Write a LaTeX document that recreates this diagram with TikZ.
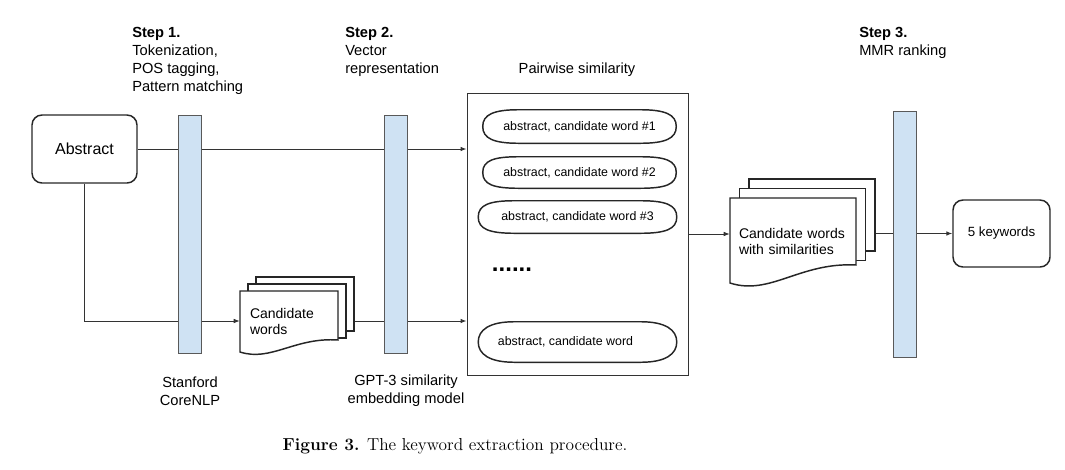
\documentclass[tikz,border=0pt]{standalone}
\usepackage{fontspec}
\setsansfont{Liberation Sans}
\usepackage{tikz}
\usetikzlibrary{arrows.meta,backgrounds}
\definecolor{barblue}{RGB}{207,226,243}

\begin{document}
\begin{tikzpicture}[x=0.75pt,y=-0.75pt]
\tikzstyle{roundbox}=[rectangle,rounded corners=7.5pt,draw=black!85,line width=1.1pt]
\tikzstyle{stepbar}=[rectangle,draw=black!65,line width=0.6pt,fill=barblue,minimum width=17.25pt,inner sep=0]
\tikzstyle{steplabel}=[anchor=north west,align=left,inner sep=0,font=\sffamily\fontsize{11}{13.5}\selectfont]
\tikzstyle{toollabel}=[align=center,inner sep=0,font=\sffamily\fontsize{11}{13.5}\selectfont]
\tikzstyle{pair}=[rectangle,inner sep=0,font=\sffamily\fontsize{9.3}{11}\selectfont]
\tikzstyle{pairline}=[draw=black!85,line width=1.1pt]
\tikzstyle{docpage}=[draw=black!85,line width=1.1pt,fill=white]
\tikzstyle{doctext}=[rectangle,align=left,inner ysep=0,font=\sffamily\fontsize{10.5}{12}\selectfont]
\tikzstyle{flow}=[draw=black!80,line width=0.75pt,-{Latex[length=4.5pt,width=3.5pt]}]
\useasboundingbox (0,0) rectangle (1065,469);

\node [roundbox,minimum width=78.75pt,minimum height=51pt,font=\sffamily\fontsize{12}{14}\selectfont] (abstract) at (84.5,149) {Abstract};
\node [roundbox,minimum width=72.75pt,minimum height=50.25pt,font=\sffamily\fontsize{10}{12}\selectfont] (keywords) at (1001.5,233.5) {5 keywords};

\node [stepbar,minimum height=178.5pt] (bar1) at (189.5,234) {};
\node [stepbar,minimum height=178.5pt] (bar2) at (395.5,234) {};
\node [stepbar,minimum height=184.5pt] (bar3) at (904.5,234) {};

\node [steplabel] (step1) at (132,27) {\textbf{Step 1.}\\Tokenization,\\POS tagging,\\Pattern matching};
\node [steplabel] (step2) at (345,27) {\textbf{Step 2.}\\Vector\\representation};
\node [steplabel] (step3) at (859,27) {\textbf{Step 3.}\\MMR ranking};
\node [toollabel] (nlp) at (190,391) {Stanford\\CoreNLP};
\node [toollabel] (gpt) at (406,391) {GPT-3 similarity\\embedding model};

\node [toollabel] (pairtitle) at (577,70) {Pairwise similarity};
\node [rectangle,draw=black!80,line width=0.75pt,minimum width=165.75pt,minimum height=211.5pt] (pairs) at (577.5,234) {};
\node [pair,minimum width=144.75pt,minimum height=24.75pt] (pair1) at (579.5,126.5) {abstract, candidate word \#1};
\node [pair,minimum width=144.75pt,minimum height=23.25pt] (pair2) at (579.5,172.5) {abstract, candidate word \#2};
\node [pair,minimum width=148.5pt,minimum height=24pt] (pair3) at (577.5,217) {abstract, candidate word \#3};
\node [pair,minimum width=148.5pt,minimum height=30pt] (pair4) at (577.5,342) {abstract, candidate word\hspace*{18pt}};
\foreach \p in {pair1,pair2,pair3,pair4}
  \draw [pairline] (\p.west) .. controls +(0,-12) and +(-25,0) .. ([xshift=27pt]\p.north west)
    -- ([xshift=-27pt]\p.north east) .. controls +(25,0) and +(0,-12) .. (\p.east)
    .. controls +(0,12) and +(25,0) .. ([xshift=-27pt]\p.south east)
    -- ([xshift=27pt]\p.south west) .. controls +(-25,0) and +(0,12) .. (\p.west) -- cycle;
\node [font=\sffamily\bfseries\fontsize{18}{20}\selectfont] (dots) at (512,270) {......};

% candidate words
\foreach \k in {2,1}
  \draw [docpage] (240+8*\k,291-7*\k) rectangle (338+8*\k,345-7*\k);
\draw [docpage] (240,291) -- (338,291) -- (338,340) .. controls (295,337) and (271,362) .. (240,352) -- cycle;
\node [doctext,minimum width=73.5pt,minimum height=43.5pt,text width=58.5pt,inner xsep=7.5pt] (cand) at (289,321) {Candidate\\words};

% candidate words with similarities
\foreach \k in {2,1}
  \draw [docpage] (730+9.5*\k,198-9.5*\k) rectangle (856+9.5*\k,270-9.5*\k);
\draw [docpage] (730,198) -- (856,198) -- (856,265) .. controls (800,262) and (770,296) .. (730,283) -- cycle;
\node [doctext,minimum width=94.5pt,minimum height=64.5pt,text width=81pt,inner xsep=6.75pt] (cands) at (793,241) {Candidate words\\with similarities};

\node [font=\fontsize{13}{15}\selectfont] (caption) at (455,446) {\textbf{Figure 3.} The keyword extraction procedure.};

\begin{pgfonlayer}{background}
\draw [flow] (abstract.east) -- (abstract.east -| pairs.west);
\draw [flow] (abstract.south) |- (cand.west);
\draw [flow] (cand.east) -- (cand.east -| pairs.west);
\draw [flow] (pairs.east) -- (pairs.east -| cands.west);
\draw [flow] (keywords.west -| cands.east) -- (keywords.west);
\end{pgfonlayer}
\end{tikzpicture}
\end{document}
